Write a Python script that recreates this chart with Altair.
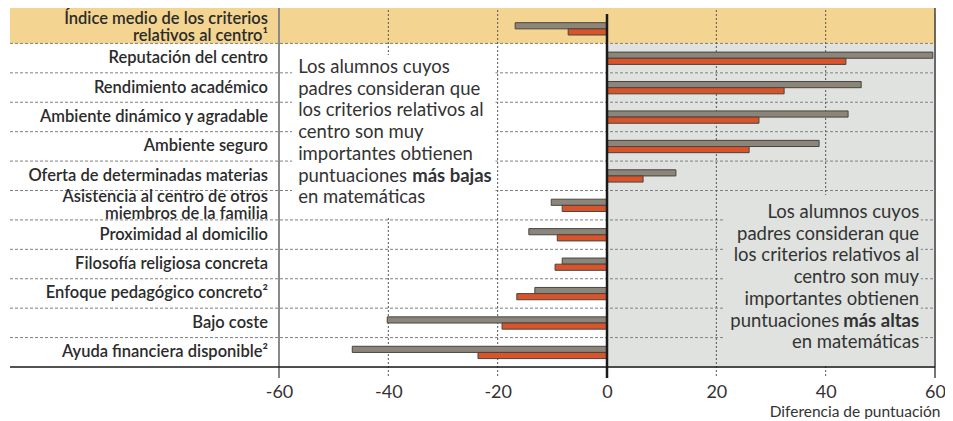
import altair as alt
import pandas as pd

categories = [
    "Índice medio de los criterios|relativos al centro¹",
    "Reputación del centro",
    "Rendimiento académico",
    "Ambiente dinámico y agradable",
    "Ambiente seguro",
    "Oferta de determinadas materias",
    "Asistencia al centro de otros|miembros de la familia",
    "Proximidad al domicilio",
    "Filosofía religiosa concreta",
    "Enfoque pedagógico concreto²",
    "Bajo coste",
    "Ayuda financiera disponible²",
]
serie_gris = [-16.8, 59.6, 46.5, 44.1, 38.8, 12.6, -10.2, -14.3, -8.2, -13.2, -40.2, -46.6]
serie_naranja = [-7.1, 43.7, 32.4, 27.8, 26.0, 6.6, -8.2, -9.1, -9.5, -16.5, -19.2, -23.6]
series = ["gris", "naranja"]
x_ticks = [-60, -40, -20, 0, 20, 40, 60]
grid_values = [-40, -20, 20, 40]
x_title = "Diferencia de puntuación"

texto_izq = ("Los alumnos cuyos\npadres consideran que\nlos criterios relativos al\n"
             "centro son muy\nimportantes obtienen\npuntuaciones\nen matemáticas")
texto_der = ("Los alumnos cuyos\npadres consideran que\nlos criterios relativos al\n"
             "centro son muy\nimportantes obtienen")

W, H = 656, 353
ROW = H / 12
FONT = "Lato"
TAN = "#f3d591"
GRIS_FONDO = "#dfe2df"
TXT = "#333333"
LEFT = -269
TOP = -8

rows = []
for c, g, o in zip(categories, serie_gris, serie_naranja):
    rows.append({"cat": c, "serie": "gris", "v": g})
    rows.append({"cat": c, "serie": "naranja", "v": o})
bars_df = pd.DataFrame(rows)

yscale = alt.Scale(domain=categories, paddingInner=0, paddingOuter=0)
xscale = alt.Scale(domain=[-60, 60], nice=False, zero=False)

AX_X = alt.Axis(values=x_ticks, labelExpr="toString(datum.value)", grid=False,
                domain=False, ticks=False, tickSize=0, labelPadding=16, labelFlush=False,
                labelFont=FONT, labelFontSize=18, labelFontWeight="normal",
                labelColor=TXT, titleFont=FONT, titleFontSize=15.5,
                titleFontWeight="normal", titleColor=TXT, titleAnchor="end",
                titleAlign="right", titleBaseline="alphabetic",
                titleX=W + 5, titleY=49, title=x_title)


def X(field):
    return alt.X(field, scale=xscale, axis=AX_X, title=x_title)


def XD(val):
    return alt.XDatum(val, scale=xscale, axis=AX_X, title=x_title)


def Y(field, **kw):
    return alt.Y(field, scale=yscale, axis=None, sort=categories, title=None, **kw)


header_df = pd.DataFrame({"cat": categories[:1]})
body_df = pd.DataFrame({"cat": categories[1:], "x0": 0, "x1": 60})
grid_df = pd.DataFrame({"v": grid_values})

header = alt.Chart(header_df).mark_rect(color=TAN).encode(
    x=alt.value(LEFT), x2=alt.value(W), y=alt.value(TOP), y2=alt.value(ROW),
)
body = alt.Chart(body_df).mark_rect(color=GRIS_FONDO).encode(
    y=Y("cat:N"), x=X("x0:Q"), x2="x1:Q",
)
row_lines = alt.Chart(body_df).mark_rule(color="#808080", strokeDash=[3, 2], strokeWidth=1).encode(
    y=Y("cat:N", bandPosition=0), x=alt.value(LEFT), x2=alt.value(W),
)
grid = alt.Chart(grid_df).mark_rule(color="#555555", strokeDash=[2, 2], strokeWidth=1).encode(
    x=X("v:Q"), y=alt.value(TOP), y2=alt.value(H + 11),
)
box_izq = alt.Chart(header_df).mark_rect(color="white").encode(
    x=XD(-57.6), x2=alt.datum(-20.4), y=alt.value(41), y2=alt.value(204),
)
box_der = alt.Chart(header_df).mark_rect(color=GRIS_FONDO).encode(
    x=XD(21.6), x2=alt.datum(57.4), y=alt.value(181), y2=alt.value(H - 1),
)

bars = alt.Chart(bars_df).mark_bar(stroke="#4a443e", strokeWidth=1).encode(
    y=Y("cat:N"),
    yOffset=alt.YOffset("serie:N", scale=alt.Scale(domain=series, range=[8.7, 21.0],
                                                   paddingInner=0, paddingOuter=0)),
    x=X("v:Q"),
    x2=alt.datum(0),
    color=alt.Color("serie:N", scale=alt.Scale(domain=series, range=["#8c857a", "#d9542b"]), legend=None),
)

left_line = alt.Chart(pd.DataFrame({"v": [-60]})).mark_rule(color="#8a8a8a", strokeWidth=2).encode(
    x=X("v:Q"), y=alt.value(TOP), y2=alt.value(H + 11))
zero_line = alt.Chart(pd.DataFrame({"v": [0]})).mark_rule(color="#1a1a1a", strokeWidth=2.5).encode(
    x=X("v:Q"), y=alt.value(0), y2=alt.value(H + 11))
right_line = alt.Chart(pd.DataFrame({"v": [60]})).mark_rule(color="#1a1a1a", strokeWidth=1.2).encode(
    x=X("v:Q"), y=alt.value(TOP), y2=alt.value(H + 11))
top_line = alt.Chart(header_df).mark_rule(color="#1a1a1a", strokeWidth=1.5).encode(
    x=alt.value(LEFT), x2=alt.value(W), y=alt.value(TOP))
bottom_line = alt.Chart(header_df).mark_rule(color="#1a1a1a", strokeWidth=1.5).encode(
    x=alt.value(LEFT), x2=alt.value(W), y=alt.value(H))

# category labels (as text marks; two-line labels are lifted to sit centred in their row)
lab_kw = dict(align="right", baseline="middle", font=FONT, fontSize=16.5, fontWeight=600,
              color="#2b2b2b", lineHeight=17)
labels_df = pd.DataFrame({"cat": categories[1:]})
labels_one = alt.Chart(labels_df).transform_filter(
    "indexof(datum.cat, '|') < 0"
).mark_text(**lab_kw).encode(y=Y("cat:N"), x=alt.value(-11), text="cat:N")
labels_two = alt.Chart(labels_df).transform_filter(
    "indexof(datum.cat, '|') >= 0"
).transform_calculate(
    lab="split(datum.cat, '|')"
).mark_text(dy=-8.5, **lab_kw).encode(y=Y("cat:N"), x=alt.value(-11), text="lab:N")
labels_head = alt.Chart(header_df).transform_calculate(
    lab="split(datum.cat, '|')"
).mark_text(dy=-10, **lab_kw).encode(y=Y("cat:N"), x=alt.value(-11), text="lab:N")

FS = 18.5
LH = 21.7
txt_kw = dict(font=FONT, fontSize=FS, color=TXT, lineBreak="\n", lineHeight=LH, baseline="alphabetic")
one_kw = dict(font=FONT, fontSize=FS, color=TXT, baseline="alphabetic")
t_izq = alt.Chart(header_df).mark_text(align="left", **txt_kw).encode(
    x=XD(-56.5), y=alt.value(59), text=alt.value(texto_izq))
t_izq_b = alt.Chart(header_df).mark_text(align="left", fontWeight="bold", dx=114, dy=5 * LH, **one_kw).encode(
    x=XD(-56.5), y=alt.value(59), text=alt.value("más bajas"))
t_der = alt.Chart(header_df).mark_text(align="right", **txt_kw).encode(
    x=XD(57.1), y=alt.value(204), text=alt.value(texto_der))
t_der_p = alt.Chart(header_df).mark_text(align="right", dx=-80, dy=5 * LH, **one_kw).encode(
    x=XD(57.1), y=alt.value(204), text=alt.value("puntuaciones"))
t_der_b = alt.Chart(header_df).mark_text(align="right", fontWeight="bold", dy=5 * LH, **one_kw).encode(
    x=XD(57.1), y=alt.value(204), text=alt.value("más altas"))
t_der_m = alt.Chart(header_df).mark_text(align="right", dy=6 * LH, **one_kw).encode(
    x=XD(57.1), y=alt.value(204), text=alt.value("en matemáticas"))

chart = alt.layer(
    header, body, row_lines, grid, box_izq, box_der, bars,
    left_line, right_line, zero_line, top_line, bottom_line,
    labels_one, labels_two, labels_head,
    t_izq, t_izq_b, t_der, t_der_p, t_der_b, t_der_m,
).properties(
    width=W, height=H,
    autosize=alt.AutoSizeParams(type="none"),
    padding={"left": 271, "top": 6, "right": 10, "bottom": 52},
).configure_view(stroke=None).configure(font=FONT)

chart.save("out.html", embed_options={"renderer": "svg", "actions": False})
